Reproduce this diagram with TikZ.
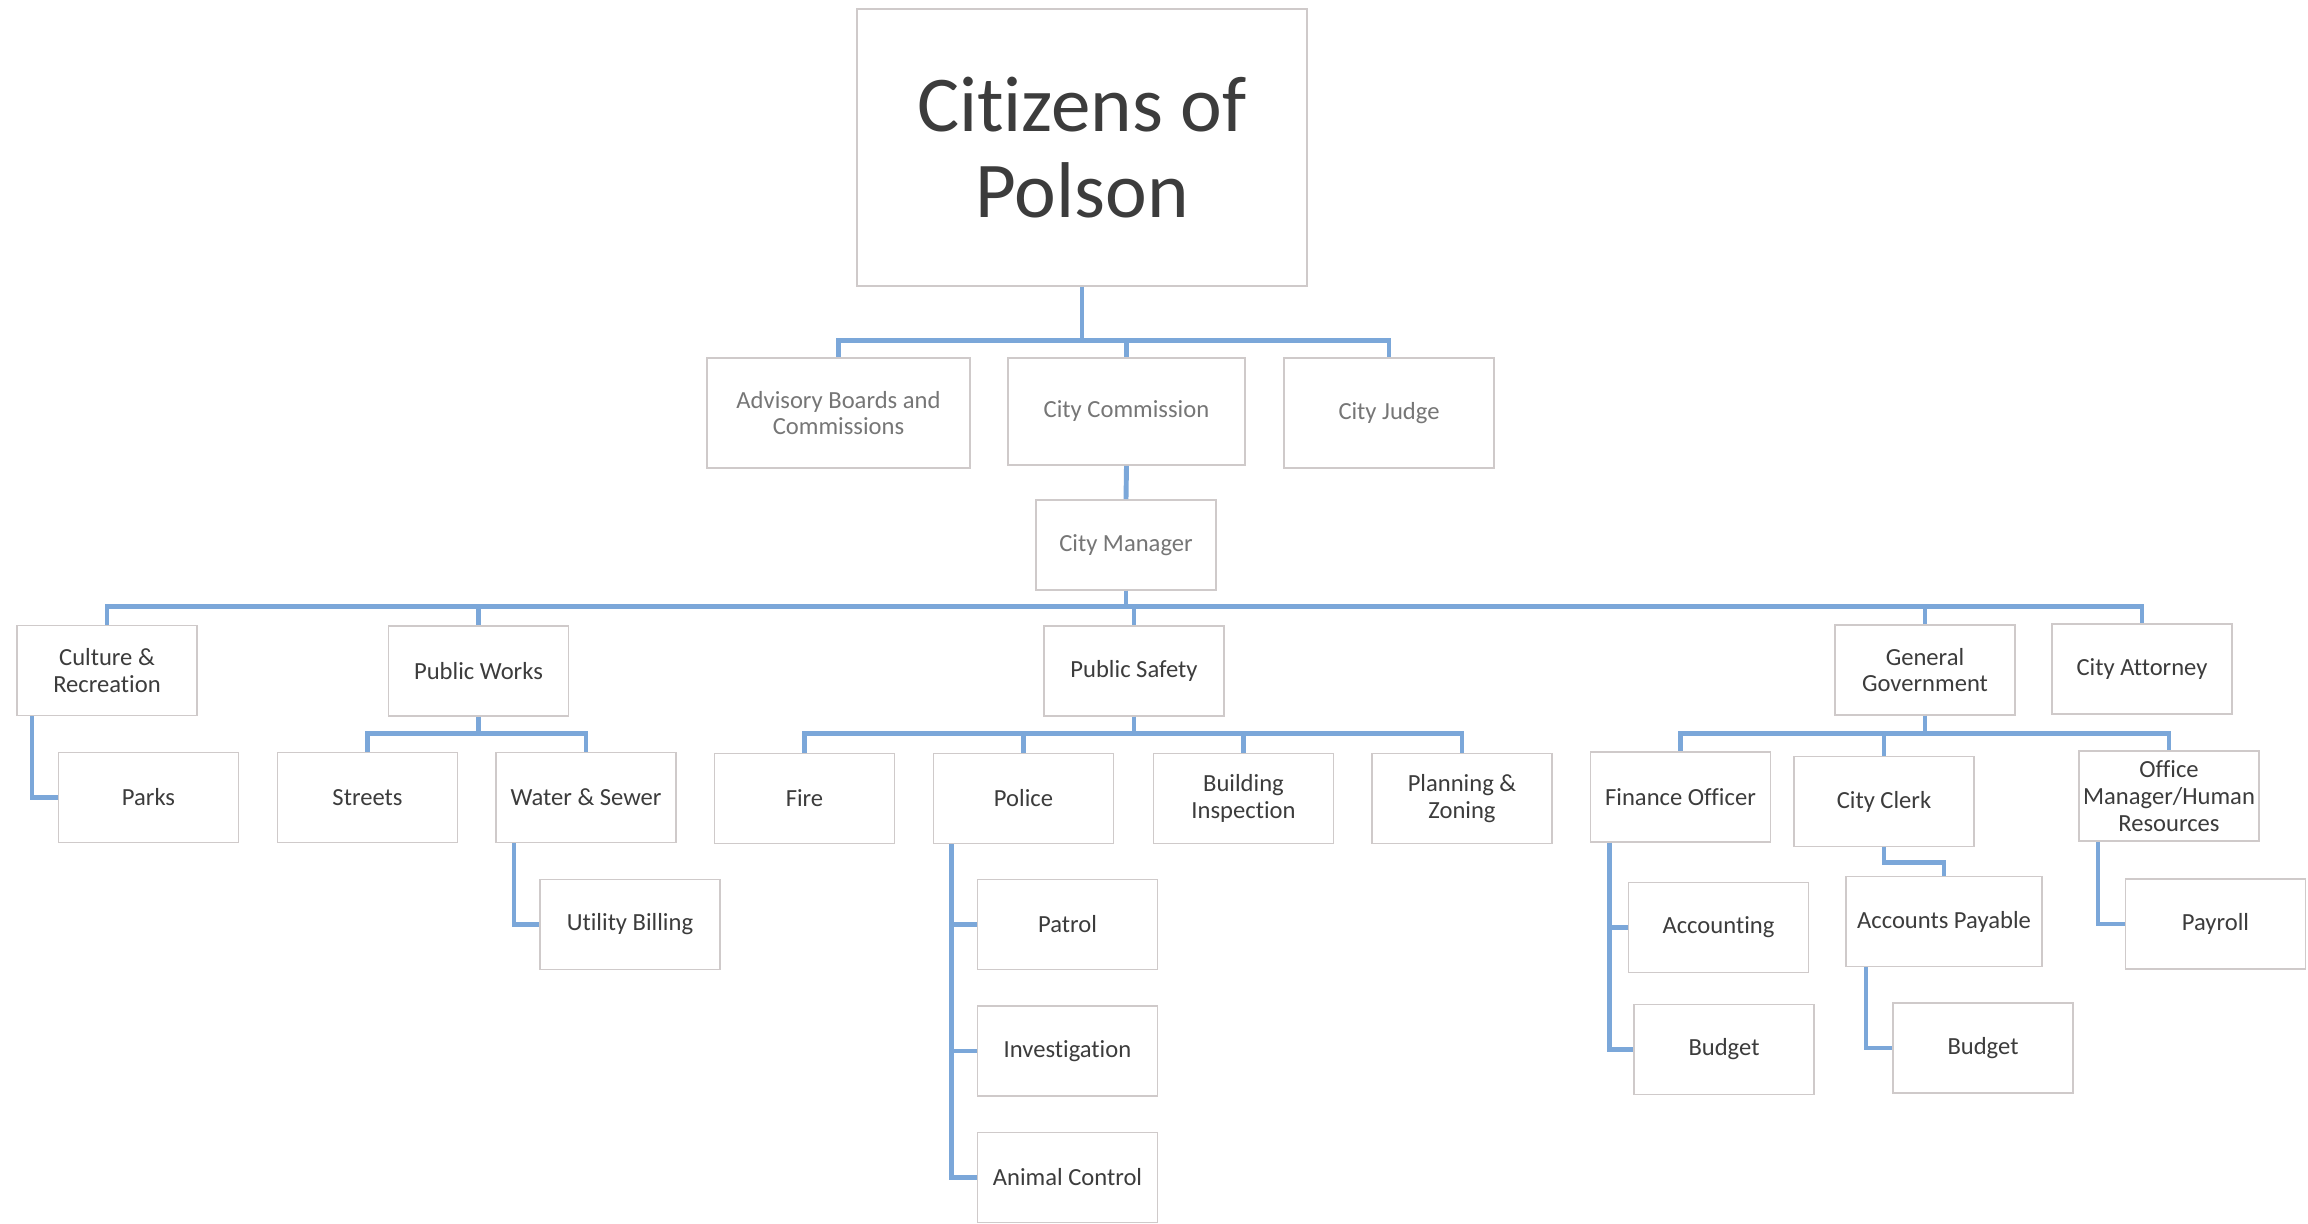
\documentclass[tikz,border=0pt]{standalone}
\usepackage{fontspec}
\setmainfont{Carlito}[Ligatures=NoCommon]
\usepackage{xcolor}
\usepackage{tikz}
\usetikzlibrary{positioning,calc}
\definecolor{polsonBlue}{HTML}{7BA7D9}
\definecolor{polsonInk}{HTML}{3C3C3C}
\definecolor{polsonFade}{HTML}{767676}
\definecolor{polsonEdge}{HTML}{CFCACA}
\tikzset{
  unit/.style={
    rectangle,
    draw=polsonEdge,
    fill=white,
    line width=0.5pt,
    inner sep=0pt,
    minimum width=18mm,
    minimum height=9mm,
    align=center,
    text=polsonInk,
    font=\fontsize{7}{7.6}\selectfont
  },
  unitFaded/.style={
    unit,
    text=polsonFade
  },
  citizens/.style={
    unit,
    minimum width=45mm,
    minimum height=27.7mm,
    font=\fontsize{22.5}{24.5}\selectfont
  },
  link/.style={
    line width=1.4pt,
    draw=polsonBlue
  }
}
\begin{document}
\begin{tikzpicture}
  \useasboundingbox (0,0) rectangle (23.08,-12.23);
  % top of the chart
  \node[citizens] (cit) at (10.82,-1.475) {Citizens of\\Polson};
  \node[unitFaded,minimum width=26.3mm,minimum height=11mm] (adv) at (8.385,-4.13) {Advisory Boards and\\Commissions};
  \node[unitFaded,minimum width=23.7mm,minimum height=10.7mm] (com) at (11.265,-4.115) {City Commission};
  \node[unitFaded,minimum width=21mm,minimum height=11mm] (judge) at (13.89,-4.13) {City Judge};
  \node[unitFaded] (mgr) at (11.26,-5.45) {City Manager};
  % departments
  \node[unit] (cul) at (1.07,-6.705) {Culture \&\\Recreation};
  \node[unit] (pw) at (4.785,-6.71) {Public Works};
  \node[unit] (ps) at (11.34,-6.71) {Public Safety};
  \node[unit] (gg) at (19.25,-6.70) {General\\Government};
  \node[unit] (att) at (21.42,-6.69) {City Attorney};
  % divisions
  \node[unit] (parks) at (1.485,-7.975) {Parks};
  \node[unit] (streets) at (3.675,-7.975) {Streets};
  \node[unit] (ws) at (5.86,-7.975) {Water \& Sewer};
  \node[unit] (ub) at (6.30,-9.245) {Utility Billing};
  \node[unit] (fire) at (8.045,-7.985) {Fire};
  \node[unit] (police) at (10.235,-7.985) {Police};
  \node[unit] (bldg) at (12.435,-7.985) {Building\\Inspection};
  \node[unit] (plan) at (14.62,-7.985) {Planning \&\\Zoning};
  \node[unit] (patrol) at (10.675,-9.245) {Patrol};
  \node[unit] (invest) at (10.675,-10.51) {Investigation};
  \node[unit] (animal) at (10.675,-11.775) {Animal Control};
  \node[unit] (fin) at (16.805,-7.97) {Finance Officer};
  \node[unit] (clerk) at (18.84,-8.015) {City Clerk};
  \node[unit] (om) at (21.69,-7.96) {Office\\Manager/Human\\Resources};
  \node[unit] (acct) at (17.185,-9.275) {Accounting};
  \node[unit] (bud1) at (17.24,-10.495) {Budget};
  \node[unit,minimum width=19.6mm] (ap) at (19.44,-9.215) {Accounts Payable};
  \node[unit] (bud2) at (19.83,-10.48) {Budget};
  \node[unit] (payroll) at (22.155,-9.24) {Payroll};
  % connectors
  \draw[link] (cit.south) -- ++(0,-0.54) -| (adv.north);
  \draw[link] (cit.south) -- ++(0,-0.54) -| (com.north);
  \draw[link] (cit.south) -- ++(0,-0.54) -| (judge.north);
  \draw[link] (com.south) -- (mgr.north);
  \foreach \dept in {cul,pw,ps,gg,att}
    \draw[link] (mgr.south) -- ++(0,-0.16) -| (\dept.north);
  \draw[link] (pw.south) -- ++(0,-0.17) -| (streets.north);
  \draw[link] (pw.south) -- ++(0,-0.17) -| (ws.north);
  \foreach \unitname in {fire,police,bldg,plan}
    \draw[link] (ps.south) -- ++(0,-0.17) -| (\unitname.north);
  \foreach \unitname in {fin,clerk,om}
    \draw[link] (gg.south) -- ++(0,-0.18) -| (\unitname.north);
  \draw[link] ([xshift=-7.5mm]cul.south) |- (parks.west);
  \draw[link] ([xshift=-7.2mm]ws.south) |- (ub.west);
  \foreach \unitname in {patrol,invest,animal}
    \draw[link] ([xshift=-7.2mm]police.south) |- (\unitname.west);
  \draw[link] ([xshift=-7.1mm]fin.south) |- (acct.west);
  \draw[link] ([xshift=-7.1mm]fin.south) |- (bud1.west);
  \draw[link] (clerk.south) -- ++(0,-0.15) -| (ap.north);
  \draw[link] ([xshift=-7.8mm]ap.south) |- (bud2.west);
  \draw[link] ([xshift=-7.1mm]om.south) |- (payroll.west);
\end{tikzpicture}
\end{document}
